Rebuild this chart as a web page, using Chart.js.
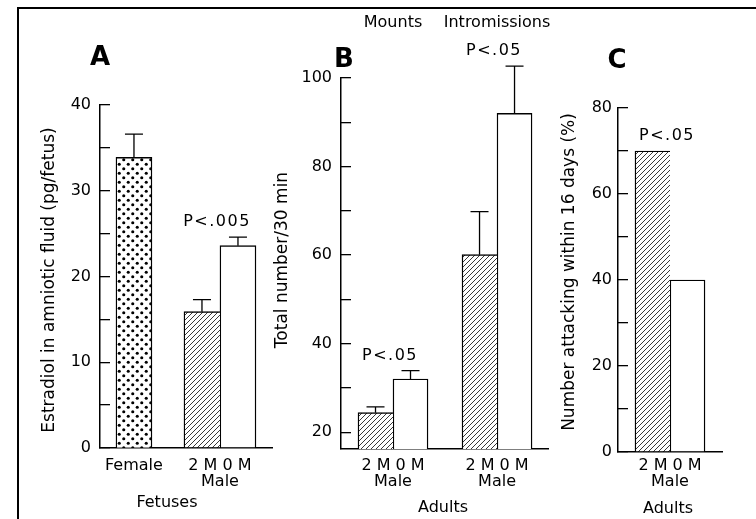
<!DOCTYPE html>
<html>
<head>
<meta charset="utf-8">
<script src="https://cdn.jsdelivr.net/npm/chart.js@4.4.1/dist/chart.umd.min.js"></script>
<style>
  html, body { margin: 0; padding: 0; background: #fff; }
  #wrap { position: relative; width: 756px; height: 519px; overflow: hidden; background: #fff; }
  #wrap canvas { position: absolute; left: 0; top: 0; }
</style>
</head>
<body>
<div id="wrap">
  <canvas id="cA" width="756" height="519" style="width:756px;height:519px"></canvas>
  <canvas id="cB" width="756" height="519" style="width:756px;height:519px"></canvas>
  <canvas id="cC" width="756" height="519" style="width:756px;height:519px"></canvas>
</div>
<script>
// ---------------- DATA ----------------
// Panel A: estradiol in amniotic fluid (pg/fetus), fetuses
const groupsA = ['Female', ['2 M 0 M', 'Male']];
const femaleEstradiol    = [33.9, null];
const femaleEstradiolErr = [2.7, null];
const male2MEstradiol    = [null, 15.9];
const male2MEstradiolErr = [null, 1.4];
const male0MEstradiol    = [null, 23.6];
const male0MEstradiolErr = [null, 1.0];
const yTicksA = [0, 10, 20, 30, 40];
const pLabelsA = ['', 'P<.005'];

// Panel B: sexual behaviour, total number / 30 min, adults
const behaviours = ['Mounts', 'Intromissions'];
const groupsB = [['2 M 0 M', 'Male'], ['2 M 0 M', 'Male']];
const male2MSex    = [24.4, 60.1];
const male2MSexErr = [1.3, 9.7];
const male0MSex    = [32.0, 92.0];
const male0MSexErr = [1.9, 10.7];
const yTicksB = [20, 40, 60, 80, 100];
const yRangeB = [16.2, 100];
const pLabelsB = ['P<.05', 'P<.05'];

// Panel C: number attacking within 16 days (%), adults
const groupsC = [['2 M 0 M', 'Male']];
const male2MAttack = [70];
const male0MAttack = [40];
const yTicksC = [0, 20, 40, 60, 80];
const pLabelsC = ['P<.05'];

// ---------------- LAYOUT / STYLE ----------------
const INK = '#000';
const W = 756, H = 519, Y_AXIS_W = 60, X_AXIS_H = 40, CAP = 9;
const FONT = '"DejaVu Sans", "Liberation Sans", sans-serif';
Chart.defaults.font.family = FONT;
Chart.defaults.color = INK;

const LAYOUT = {
  A: { left: 100, right: 272, top: 105, bottom: 448, xMin: -0.395, xMax: 1.605, bar: 36, labelGap: 9 },
  B: { left: 341, right: 548, top: 78,  bottom: 449, xMin: -0.5,   xMax: 1.49,  bar: 35, labelGap: 9 },
  C: { left: 618, right: 722, top: 108, bottom: 452, xMin: -0.5,   xMax: 0.5,   bar: 35, labelGap: 6 }
};
const X_LABEL_Y = 466;

function makeHatch() {
  const c = document.createElement('canvas'); c.width = 5; c.height = 5;
  const g = c.getContext('2d');
  g.fillStyle = '#fff'; g.fillRect(0, 0, 5, 5);
  g.strokeStyle = '#222'; g.lineWidth = 0.9;
  g.beginPath();
  g.moveTo(0, 5); g.lineTo(5, 0);
  g.moveTo(-1, 1); g.lineTo(1, -1);
  g.moveTo(4, 6); g.lineTo(6, 4);
  g.stroke();
  return g.createPattern(c, 'repeat');
}
function makeDots() {
  const c = document.createElement('canvas'); c.width = 9; c.height = 9;
  const g = c.getContext('2d');
  g.fillStyle = '#fff'; g.fillRect(0, 0, 9, 9);
  g.fillStyle = '#000';
  [[2.25, 2.25], [6.75, 6.75]].forEach(([x, y]) => { g.beginPath(); g.arc(x, y, 1.55, 0, Math.PI * 2); g.fill(); });
  return g.createPattern(c, 'repeat');
}
const HATCH = makeHatch(), DOTS = makeDots();
const BW_FULL = 1.4;
const BW_LEFTPART = { top: 1.4, left: 1.4, right: 0, bottom: 0 };

function pts(vals) { return vals.map((v, i) => ({ x: i, y: v })); }
function withMinors(labels) {
  const out = [];
  labels.forEach((v, i) => { out.push(v); if (i < labels.length - 1) out.push((v + labels[i + 1]) / 2); });
  return out;
}

const errorBars = {
  id: 'errorBars',
  afterDatasetsDraw(chart) {
    const ctx = chart.ctx, ys = chart.scales.y;
    ctx.save();
    ctx.strokeStyle = INK; ctx.lineWidth = 1.3;
    chart.data.datasets.forEach((ds, di) => {
      if (!ds.errors) return;
      const meta = chart.getDatasetMeta(di);
      meta.data.forEach((el, j) => {
        const v = ds.data[j].y, e = ds.errors[j];
        if (v == null || e == null) return;
        const yTop = ys.getPixelForValue(v + e);
        ctx.beginPath();
        ctx.moveTo(el.x, el.y); ctx.lineTo(el.x, yTop);
        ctx.moveTo(el.x - CAP, yTop); ctx.lineTo(el.x + CAP, yTop);
        ctx.stroke();
      });
    });
    ctx.restore();
  }
};

function decor(cfg) {
  return {
    id: 'decor',
    afterDraw(chart) {
      const ctx = chart.ctx, xs = chart.scales.x, ys = chart.scales.y;
      ctx.save();
      ctx.fillStyle = INK;
      ctx.textAlign = 'center';
      ctx.textBaseline = 'middle';
      if (cfg.frame) {
        ctx.fillRect(17, 7, 2, H - 7);
        ctx.fillRect(17, 7, W - 17, 2);
      }
      ctx.font = 'bold 26px ' + FONT;
      ctx.fillText(cfg.letter[0], cfg.letter[1], cfg.letter[2]);
      ctx.font = '16px ' + FONT;
      ctx.fillText(cfg.group[0], cfg.group[1], cfg.group[2]);
      if (cfg.topLabels) {
        cfg.topLabels.forEach((t, i) => ctx.fillText(t, xs.getPixelForValue(i), cfg.topY));
      }
      // p-values above each group
      ctx.letterSpacing = '1.5px';
      cfg.pLabels.forEach((t, i) => {
        if (!t) return;
        let top = Infinity;
        chart.data.datasets.forEach((ds) => {
          const v = ds.data[i] && ds.data[i].y;
          if (v == null) return;
          const e = ds.errors ? ds.errors[i] : null;
          top = Math.min(top, ys.getPixelForValue(v + (e || 0)));
        });
        ctx.fillText(t, xs.getPixelForValue(i) - 3, top - 15);
      });
      ctx.letterSpacing = '0px';
      // rotated y title
      ctx.font = '17px ' + FONT;
      ctx.translate(cfg.yTitle[1], cfg.yTitle[2]);
      ctx.rotate(-Math.PI / 2);
      ctx.fillText(cfg.yTitle[0], 0, 0);
      ctx.restore();
    }
  };
}

function makePanel(id, L, groups, datasets, yMin, yMax, yLabels, decorCfg) {
  const yVals = withMinors(yLabels);
  return new Chart(document.getElementById(id), {
    type: 'bar',
    data: { datasets },
    options: {
      responsive: false,
      animation: false,
      devicePixelRatio: 1,
      events: [],
      layout: { padding: { left: L.left - Y_AXIS_W, right: W - L.right, top: L.top, bottom: H - L.bottom - X_AXIS_H } },
      plugins: { legend: { display: false }, tooltip: { enabled: false } },
      datasets: { bar: { skipNull: true, grouped: true, barThickness: L.bar, borderColor: INK } },
      scales: {
        x: {
          type: 'linear', min: L.xMin, max: L.xMax, bounds: 'data', offset: false,
          grid: { display: false, drawTicks: false, offset: false },
          border: { color: INK, width: 1.5 },
          afterBuildTicks: s => { s.ticks = groups.map((g, i) => ({ value: i })); },
          afterFit: s => { s.height = X_AXIS_H; },
          ticks: {
            autoSkip: false, maxRotation: 0, minRotation: 0,
            padding: X_LABEL_Y - L.bottom - 8,
            color: INK, font: { size: 16, lineHeight: 1 },
            callback: v => groups[Math.round(v)]
          }
        },
        y: {
          type: 'linear', min: yMin, max: yMax, bounds: 'data', beginAtZero: false,
          grid: { drawOnChartArea: false, drawTicks: true, tickLength: -10, color: INK, lineWidth: 1.3 },
          border: { color: INK, width: 1.5 },
          afterBuildTicks: s => { s.ticks = yVals.map(v => ({ value: v })); },
          afterFit: s => { s.width = Y_AXIS_W; },
          ticks: {
            padding: L.labelGap + 10, color: INK, font: { size: 16 },
            callback: v => (yLabels.includes(v) ? String(v) : '')
          }
        }
      }
    },
    plugins: [errorBars, decor(decorCfg)]
  });
}

// Panel A
makePanel('cA', LAYOUT.A, groupsA, [
  { label: 'Female', data: pts(femaleEstradiol), errors: femaleEstradiolErr, backgroundColor: DOTS, borderWidth: BW_FULL },
  { label: '2 M male', data: pts(male2MEstradiol), errors: male2MEstradiolErr, backgroundColor: HATCH, borderWidth: BW_LEFTPART },
  { label: '0 M male', data: pts(male0MEstradiol), errors: male0MEstradiolErr, backgroundColor: '#fff', borderWidth: BW_FULL }
], yTicksA[0], yTicksA[yTicksA.length - 1], yTicksA, {
  frame: true,
  letter: ['A', 100, 58],
  group: ['Fetuses', 167, 503],
  yTitle: ['Estradiol in amniotic fluid (pg/fetus)', 50, 280],
  pLabels: pLabelsA
});

// Panel B
makePanel('cB', LAYOUT.B, groupsB, [
  { label: '2 M male', data: pts(male2MSex), errors: male2MSexErr, backgroundColor: HATCH, borderWidth: BW_LEFTPART },
  { label: '0 M male', data: pts(male0MSex), errors: male0MSexErr, backgroundColor: '#fff', borderWidth: BW_FULL }
], yRangeB[0], yRangeB[1], yTicksB, {
  letter: ['B', 344, 60],
  group: ['Adults', 443, 508],
  yTitle: ['Total number/30 min', 283, 260],
  topLabels: behaviours, topY: 23,
  pLabels: pLabelsB
});

// Panel C
makePanel('cC', LAYOUT.C, groupsC, [
  { label: '2 M male', data: pts(male2MAttack), backgroundColor: HATCH, borderWidth: BW_LEFTPART },
  { label: '0 M male', data: pts(male0MAttack), backgroundColor: '#fff', borderWidth: BW_FULL }
], yTicksC[0], yTicksC[yTicksC.length - 1], yTicksC, {
  letter: ['C', 617, 61],
  group: ['Adults', 668, 509],
  yTitle: ['Number attacking within 16 days (%)', 570, 272],
  pLabels: pLabelsC
});
</script>
</body>
</html>
